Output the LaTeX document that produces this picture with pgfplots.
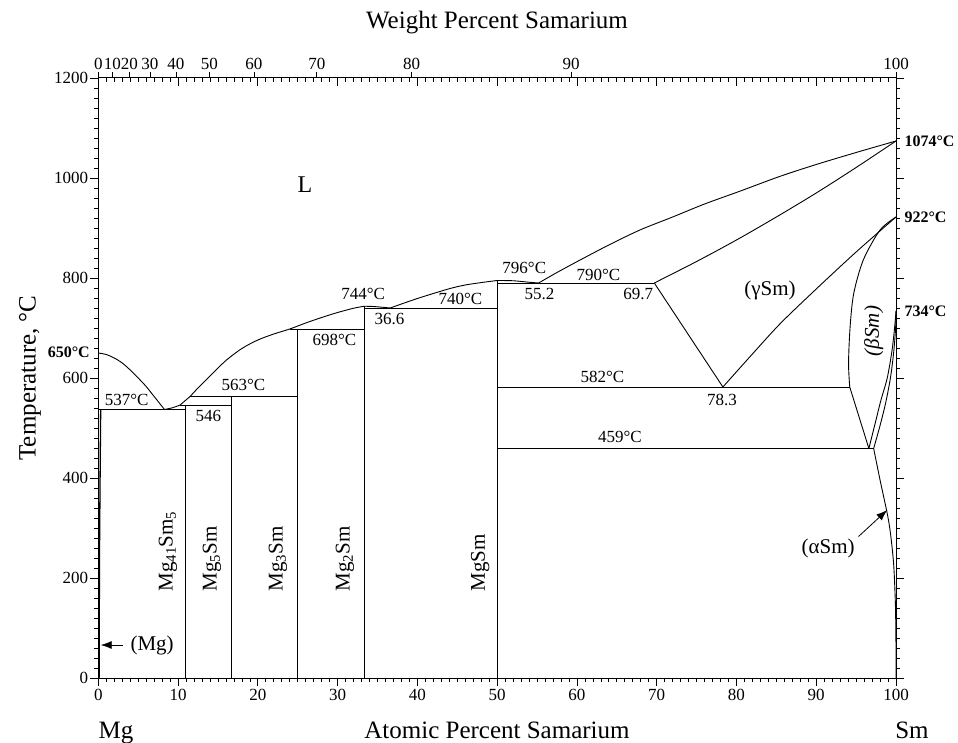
\documentclass[border=0pt]{standalone}
\usepackage{fontspec}
\setmainfont{Liberation Serif}
\usepackage{pgfplots}
\pgfplotsset{compat=1.18}
\usetikzlibrary{arrows.meta}
\newcommand{\tl}{\fontsize{17}{20}\selectfont}
\newcommand{\an}{\fontsize{17}{20}\selectfont}
\newcommand{\bl}{\fontsize{16}{19}\selectfont\bfseries}
\newcommand{\ph}{\fontsize{21}{24}\selectfont}
\newcommand{\ax}{\fontsize{25}{30}\selectfont}
\begin{document}
\begin{tikzpicture}
\pgfplotsset{base/.style={scale only axis, width=797.7pt, height=600pt,
  xmin=0, xmax=100, ymin=0, ymax=1200, at={(0pt,0pt)}, anchor=south west,
  /pgf/number format/assume math mode=true,
  /pgf/number format/1000 sep={},
  ticklabel style={font=\tl},
  tick style={black, line width=0.7pt},
  axis line style={line width=1pt}},
  ln/.style={black, line width=0.9pt, mark=none, solid}}
% top inward atomic-percent ticks
\begin{axis}[base, axis x line*=top, hide y axis,
  xtick={0,10,...,100}, minor x tick num=9, xticklabels={},
  tick align=inside, major tick length=8pt, minor tick length=4pt]
\addplot[draw=none] coordinates {(0,0)};
\end{axis}
% top weight-percent ticks
\begin{axis}[base, axis x line*=top, hide y axis,
  xtick={0,1.764,3.884,6.479,9.728,13.915,19.515,27.388,39.268,59.263,100},
  xticklabels={0,10,20,30,40,50,60,70,80,90,100},
  minor x tick num=0, tick align=outside, major tick length=6pt,
  xticklabel style={inner sep=2pt}]
\addplot[draw=none] coordinates {(0,0)};
\end{axis}
% main axis
\begin{axis}[base, clip=false,
  xtick={0,10,...,100}, minor x tick num=9, xtick pos=left, xticklabel pos=left,
  ytick={0,200,...,1200}, minor y tick num=9, ytick pos=both, yticklabel pos=left,
  tick align=outside, major tick length=8pt, minor tick length=4pt,
  yticklabel style={inner sep=2pt}, xticklabel style={inner sep=3pt}]
% Mg-rich liquidus
\addplot[ln, smooth] coordinates {(0,650)(1,647)(2,640)(3,630)(4,616)(5,600)(6,583)(7,563)(8.3,537)};
\addplot[ln, smooth] coordinates {(8.3,537)(9.3,540.5)(10.26,546)};
\addplot[ln] coordinates {(10.26,546)(11.5,563)};
\addplot[ln, smooth] coordinates {(11.5,563)(12.5,580)(14,604)(16,635)(18,659)(20,676)(22,688)(24,698)(26,710)(28,721)(30,731)(32,739.5)(33.33,743.5)};
\addplot[ln, smooth] coordinates {(33.33,743.5)(34.5,743)(35.6,741.5)(36.6,740)};
\addplot[ln, smooth] coordinates {(36.6,740)(38,748)(40,759)(42,769)(44.1,779)(46,786)(48.3,791.5)(50,795)};
\addplot[ln, smooth] coordinates {(50,795)(52,794.5)(54,791.5)(55.2,790)};
% Mg solvus
\addplot[ln, line width=1.3pt] coordinates {(0.1,0)(0.15,250)(0.25,450)(0.3,537)};
% invariant lines
\addplot[ln] coordinates {(0,537)(10.87,537)};
\addplot[ln] coordinates {(10.26,546)(16.67,546)};
\addplot[ln] coordinates {(11.5,563)(25,563)};
\addplot[ln] coordinates {(24,698)(33.33,698)};
\addplot[ln] coordinates {(33.33,740)(50,740)};
\addplot[ln] coordinates {(50,790)(69.7,790)};
\addplot[ln] coordinates {(50,582)(94.2,582)};
\addplot[ln] coordinates {(50,459)(97.2,459)};
% compounds
\addplot[ln] coordinates {(10.87,0)(10.87,546)};
\addplot[ln] coordinates {(16.67,0)(16.67,563)};
\addplot[ln] coordinates {(25,0)(25,698)};
\addplot[ln] coordinates {(33.33,0)(33.33,743.5)};
\addplot[ln] coordinates {(50,0)(50,795)};
% Sm-rich liquidus and solidus
\addplot[ln, smooth] coordinates {(55.2,790)(57.5,811)(60.4,836)(64,866)(67.9,896)(72,922)(76,948)(80.5,974)(85.4,1003)(90,1027)(95,1051)(100,1074)};
\addplot[ln, smooth] coordinates {(69.7,790)(75,833)(80,876)(85,922)(90,970)(95,1021)(100,1074)};
% gamma Sm boundaries
\addplot[ln] coordinates {(69.7,790)(78.3,582)};
\addplot[ln, smooth] coordinates {(78.3,582)(82,648)(85.5,709)(90,778)(95,852)(100,922)};
% beta Sm boundaries
\addplot[ln, smooth] coordinates {(100,922)(98,896)(95.9,836)(94.7,769)(94.25,703)(94.05,630)(94.2,582)};
\addplot[ln] coordinates {(94.2,582)(96.6,459)};
\addplot[ln, smooth] coordinates {(96.6,459)(97.4,510)(98.1,555)(98.9,600)(99.5,655)(99.85,705)(100,734)};
\addplot[ln, smooth] coordinates {(97.2,459)(98.0,505)(98.7,550)(99.3,600)(99.7,650)(99.95,700)(100,734)};
% alpha Sm solvus
\addplot[ln, smooth] coordinates {(97.2,459)(98,396)(98.9,329)(99.3,290)(99.7,229)(99.9,160)(99.97,110)};
\addplot[ln] coordinates {(99.97,110)(100,60)(100,0)};
% arrows
\draw[line width=0.8pt, -{Latex[length=11pt,width=8pt]}] (axis cs:3.1,66) -- (axis cs:0.3,66);
\draw[line width=0.8pt, -{Latex[length=11pt,width=8pt]}] (axis cs:95.3,283) -- (axis cs:98.9,336);
% annotations
\node[font=\an] at (axis cs:3.56,556) {537°C};
\node[font=\an] at (axis cs:13.8,524) {546};
\node[font=\an] at (axis cs:18.2,586) {563°C};
\node[font=\an] at (axis cs:29.6,676) {698°C};
\node[font=\an] at (axis cs:33.2,768) {744°C};
\node[font=\an] at (axis cs:36.5,718) {36.6};
\node[font=\an] at (axis cs:45.4,759) {740°C};
\node[font=\an] at (axis cs:53.4,820) {796°C};
\node[font=\an] at (axis cs:55.3,769) {55.2};
\node[font=\an] at (axis cs:62.7,807) {790°C};
\node[font=\an] at (axis cs:67.7,769) {69.7};
\node[font=\an] at (axis cs:63.2,603) {582°C};
\node[font=\an] at (axis cs:78.2,556) {78.3};
\node[font=\an] at (axis cs:65.4,482) {459°C};
\node[font=\fontsize{24}{28}\selectfont] at (axis cs:25.9,986) {L};
\node[font=\ph] at (axis cs:84.2,776) {(γSm)};
\node[font=\ph] at (axis cs:91.5,260) {(αSm)};
\node[font=\ph\itshape, rotate=90] at (axis cs:97.2,694) {(βSm)};
\node[font=\ph, anchor=west] at (axis cs:3.6,66) {(Mg)};
\node[font=\ph, rotate=90, anchor=west] at (axis cs:8.74,166) {Mg\textsubscript{41}Sm\textsubscript{5}};
\node[font=\ph, rotate=90, anchor=west] at (axis cs:14.26,166) {Mg\textsubscript{5}Sm};
\node[font=\ph, rotate=90, anchor=west] at (axis cs:22.53,166) {Mg\textsubscript{3}Sm};
\node[font=\ph, rotate=90, anchor=west] at (axis cs:30.93,166) {Mg\textsubscript{2}Sm};
\node[font=\ph, rotate=90, anchor=west] at (axis cs:47.86,166) {MgSm};
\end{axis}
% outer labels (pt = px of the reference, origin at axis SW corner)
\node[font=\ax, anchor=base] at (398.7pt,649pt) {Weight Percent Samarium};
\node[font=\ax, anchor=base] at (398.7pt,-60pt) {Atomic Percent Samarium};
\node[font=\ax, anchor=base] at (17.7pt,-60pt) {Mg};
\node[font=\ax, anchor=base] at (813.7pt,-60pt) {Sm};
\node[font=\ax, rotate=90] at (-68.3pt,300pt) {Temperature, °C};
\node[font=\bl, anchor=east] at (-5pt,326pt) {650°C};
\node[font=\bl, anchor=west, inner sep=1pt] at (805pt,537pt) {1074°C};
\node[font=\bl, anchor=west, inner sep=1pt] at (805pt,461pt) {922°C};
\node[font=\bl, anchor=west, inner sep=1pt] at (805pt,367pt) {734°C};
\pgfresetboundingbox
\path[use as bounding box] (-98.3pt,-64pt) rectangle (859.7pt,678pt);
\end{tikzpicture}
\end{document}
